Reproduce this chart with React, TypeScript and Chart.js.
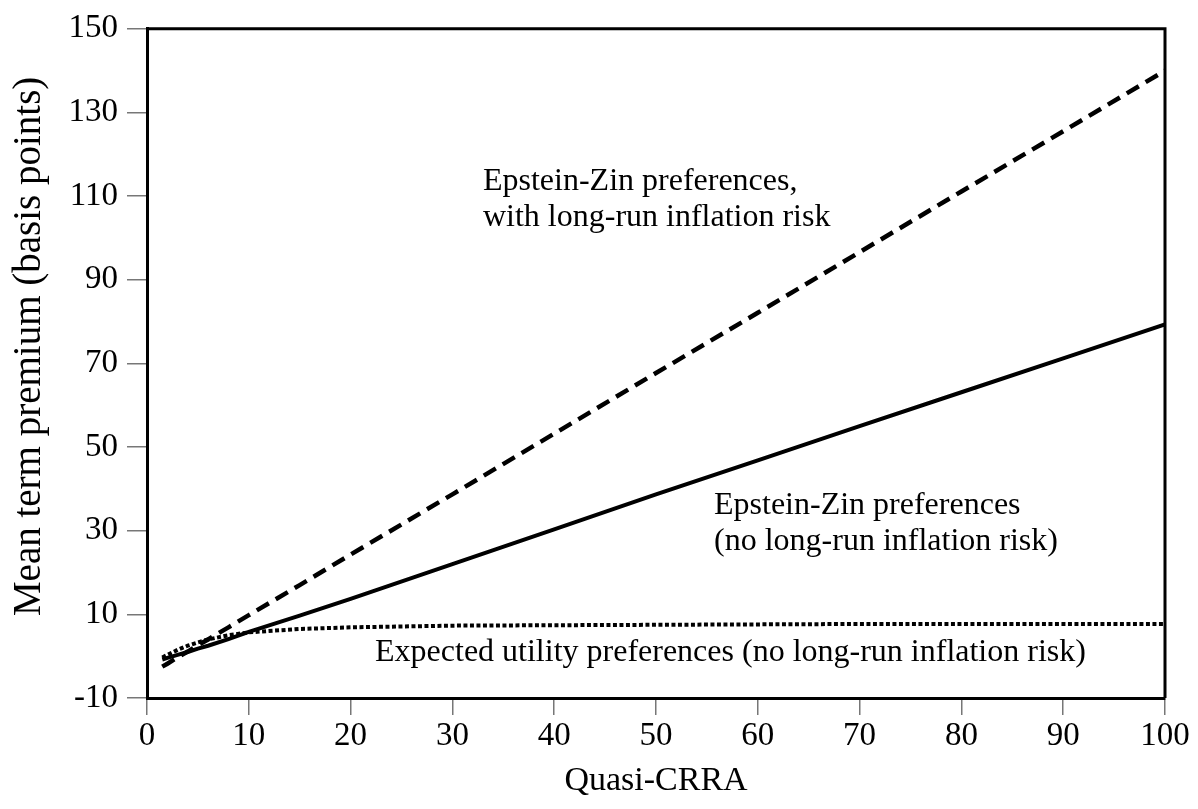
import React, { useEffect, useRef } from "react";
import { Chart, registerables } from "chart.js";

Chart.register(...registerables);

const xValues = [1.5, 2, 3, 4, 5, 6, 8, 10, 15, 20, 30, 40, 50, 60, 70, 80, 90, 100];
const ezLongRun = [-2.5, -1.8, -0.3, 1.1, 2.6, 4.0, 6.9, 9.8, 17.0, 24.3, 38.7, 53.2, 67.7, 82.1, 96.6, 111.1, 125.5, 140];
const ezNoLongRun = [-0.8, -0.4, 0.3, 1.0, 1.8, 2.5, 4.1, 5.8, 9.7, 13.7, 22.0, 30.3, 38.7, 46.8, 55.0, 63.1, 71.2, 79.3];
const euNoLongRun = [-0.3, 0.3, 1.5, 2.5, 3.3, 4.0, 5.0, 5.7, 6.5, 6.9, 7.3, 7.4, 7.5, 7.6, 7.7, 7.7, 7.7, 7.7];

const yTitle = "Mean term premium (basis points)";
const xTitle = "Quasi-CRRA";

const annTexts = [
  "Epstein-Zin preferences,",
  "with long-run inflation risk",
  "Epstein-Zin preferences",
  "(no long-run inflation risk)",
  "Expected utility preferences (no long-run inflation risk)",
];
const annX = [33.0, 33.0, 55.7, 55.7, 22.4];
const annY = [113.4, 104.9, 36.1, 27.3, 0.9];

const FONT = "'Liberation Serif', 'Times New Roman', serif";

const annotationPlugin = {
  id: "annotationsAndFrame",
  afterDatasetsDraw(chart: any) {
    const { ctx, scales } = chart;
    ctx.save();
    ctx.font = `32px ${FONT}`;
    ctx.fillStyle = "#000";
    ctx.textAlign = "left";
    ctx.textBaseline = "middle";
    annTexts.forEach((t, i) => {
      ctx.fillText(t, scales.x.getPixelForValue(annX[i]), scales.y.getPixelForValue(annY[i]));
    });
    ctx.restore();
  },
  afterDraw(chart: any) {
    const { ctx, chartArea } = chart;
    ctx.save();
    ctx.strokeStyle = "#000";
    ctx.lineWidth = 3;
    ctx.beginPath();
    ctx.moveTo(chartArea.left, chartArea.top);
    ctx.lineTo(chartArea.right, chartArea.top);
    ctx.lineTo(chartArea.right, chartArea.bottom);
    ctx.stroke();
    // y-axis title
    ctx.fillStyle = "#000";
    ctx.font = `39px ${FONT}`;
    ctx.textAlign = "center";
    ctx.textBaseline = "middle";
    ctx.translate(30, (chartArea.top + chartArea.bottom) / 2 - 17);
    ctx.rotate(-Math.PI / 2);
    ctx.fillText(yTitle, 0, 0);
    ctx.restore();
  },
};

export default function App() {
  const canvasRef = useRef<HTMLCanvasElement | null>(null);

  useEffect(() => {
    if (!canvasRef.current) return;
    const mk = (ys: number[]) => xValues.map((x, i) => ({ x, y: ys[i] }));
    const chart = new Chart(canvasRef.current, {
      type: "line",
      data: {
        datasets: [
          {
            label: "Epstein-Zin preferences, with long-run inflation risk",
            data: mk(ezLongRun),
            borderColor: "#000",
            borderWidth: 4.5,
            borderDash: [14, 8],
            pointRadius: 0,
            tension: 0,
            fill: false,
          },
          {
            label: "Epstein-Zin preferences (no long-run inflation risk)",
            data: mk(ezNoLongRun),
            borderColor: "#000",
            borderWidth: 4,
            pointRadius: 0,
            tension: 0,
            fill: false,
          },
          {
            label: "Expected utility preferences (no long-run inflation risk)",
            data: mk(euNoLongRun),
            borderColor: "#000",
            borderWidth: 4,
            borderDash: [4, 2.5],
            pointRadius: 0,
            tension: 0,
            fill: false,
          },
        ],
      },
      options: {
        animation: false,
        responsive: true,
        maintainAspectRatio: false,
        layout: { padding: { top: 21, right: 33, left: 0, bottom: 0 } },
        plugins: {
          legend: { display: false },
          tooltip: { enabled: false },
        },
        scales: {
          x: {
            type: "linear",
            min: 0,
            max: 100,
            afterFit: (scale: any) => {
              scale.height = 111;
            },
            ticks: {
              stepSize: 10,
              color: "#000",
              padding: 2,
              maxRotation: 0,
              font: { family: FONT, size: 33 },
            },
            grid: {
              drawOnChartArea: false,
              drawTicks: true,
              tickLength: 17,
              color: "#777",
              lineWidth: 1.5,
            },
            border: { display: true, color: "#000", width: 3 },
            title: {
              display: true,
              text: xTitle,
              color: "#000",
              font: { family: FONT, size: 34 },
              padding: { top: 0, bottom: 8 },
            },
          },
          y: {
            type: "linear",
            min: -10,
            max: 150,
            afterFit: (scale: any) => {
              scale.width = 147;
            },
            ticks: {
              stepSize: 20,
              color: "#000",
              padding: 9,
              font: { family: FONT, size: 33 },
            },
            grid: {
              drawOnChartArea: false,
              drawTicks: true,
              tickLength: 20,
              color: "#777",
              lineWidth: 1.5,
            },
            border: { display: true, color: "#000", width: 3 },
            title: { display: false },
          },
        },
      },
      plugins: [annotationPlugin],
    });
    return () => chart.destroy();
  }, []);

  return (
    <div style={{ position: "fixed", left: 0, top: 0, width: 1198, height: 809, background: "#fff" }}>
      <canvas ref={canvasRef} />
    </div>
  );
}
